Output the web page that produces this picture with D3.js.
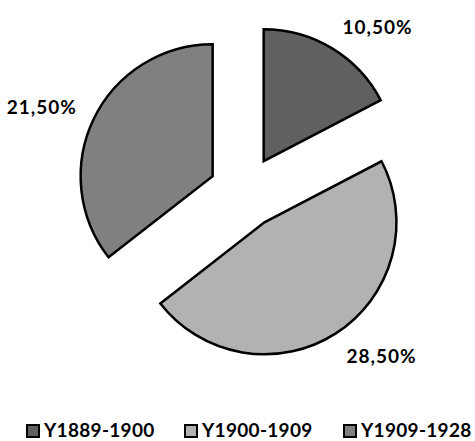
<!DOCTYPE html>
<html><head><meta charset="utf-8">
<script src="https://cdn.jsdelivr.net/npm/d3@7"></script>
<style>html,body{margin:0;padding:0;background:#fff;}svg{display:block;}</style>
</head><body>
<svg id="c" width="475" height="441"></svg>
<script>
const categories = ["Y1889-1900", "Y1900-1909", "Y1909-1928"];
const values = [10.5, 28.5, 21.5];
const labels = ["10,50%", "28,50%", "21,50%"];
const colors = ["#606060", "#b2b2b2", "#808080"];

const svg = d3.select("#c");
const cx = 245, cy = 192, R = 132, explode = 36;
const font = "Lato, 'Open Sans', sans-serif";

const pie = d3.pie().sort(null).value(d => d)(values);
const arc = d3.arc().innerRadius(0).outerRadius(R);
const g = svg.append("g").attr("transform", `translate(${cx},${cy})`);

pie.forEach((p, i) => {
  const mid = (p.startAngle + p.endAngle) / 2;
  const ox = Math.sin(mid) * explode, oy = -Math.cos(mid) * explode;
  g.append("path")
    .attr("d", arc(p))
    .attr("transform", `translate(${ox},${oy})`)
    .attr("fill", colors[i])
    .attr("stroke", "#000")
    .attr("stroke-width", 2.5)
    .attr("stroke-linejoin", "miter");
  const lr = explode + 150;
  const px = Math.sin(mid) * lr, py = -Math.cos(mid) * lr;
  const capH = 14;
  const centerY = py - Math.cos(mid) * capH / 2;
  g.append("text")
    .attr("x", px + (Math.sin(mid) > 0 ? 1 : -1))
    .attr("y", centerY + capH / 2 + (Math.cos(mid) < 0 ? 2 : 0))
    .attr("text-anchor", Math.sin(mid) > 0 ? "start" : "end")
    .attr("font-family", font)
    .attr("font-weight", "bold")
    .attr("font-size", 19)
    .attr("letter-spacing", 1)
    .attr("fill", "#000")
    .text(labels[i]);
});

// legend
const legendX = [26, 184, 343];
const lg = svg.append("g");
categories.forEach((c, i) => {
  const it = lg.append("g").attr("transform", `translate(${legendX[i]},424)`);
  it.append("rect").attr("x", 1).attr("y", 1).attr("width", 12).attr("height", 12)
    .attr("fill", colors[i]).attr("stroke", "#000").attr("stroke-width", 2);
  it.append("text").attr("x", 18).attr("y", 13)
    .attr("font-family", font).attr("font-weight", "bold").attr("font-size", 19)
    .attr("letter-spacing", 0.3)
    .attr("fill", "#000").text(c);
});
</script>
</body></html>
